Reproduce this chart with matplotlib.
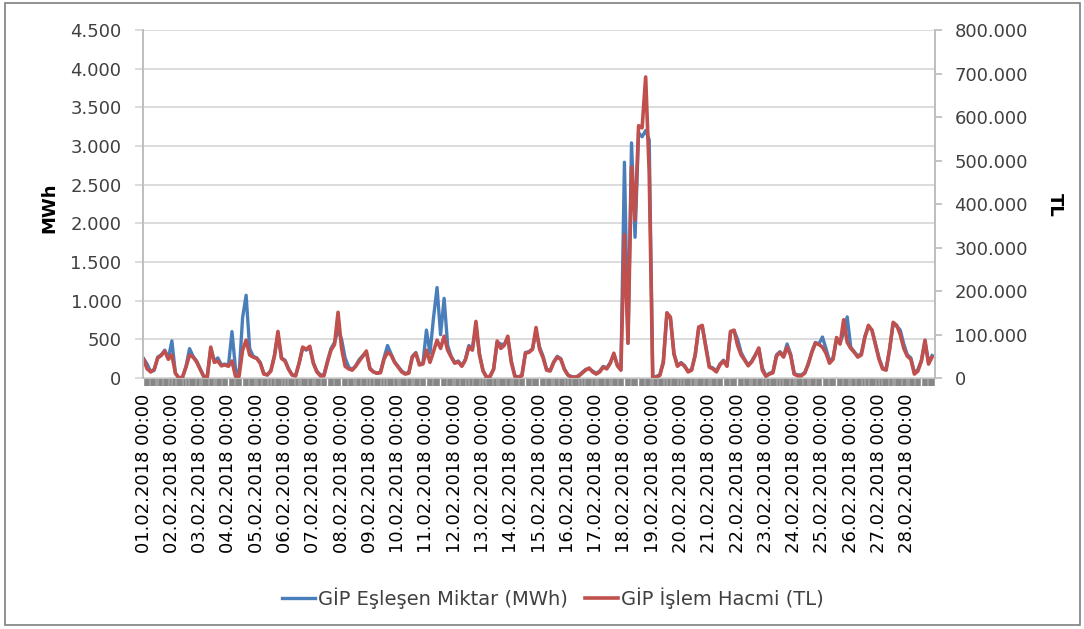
import numpy as np
import matplotlib
matplotlib.use("Agg")
import matplotlib.pyplot as plt
from matplotlib.ticker import FuncFormatter, FixedLocator
from matplotlib.patches import Rectangle

# 28 gun, 3 saatlik okumalar (grafikten okunan yaklasik degerler)
gun_etiketleri = [f"{d:02d}.02.2018 00:00" for d in range(1, 29)]
saat_adimi = 3
saat_sayisi = 28 * 24

# GIP Eslesen Miktar (MWh)
eslesen_miktar_mwh = [
    250, 180, 80, 100, 270, 300, 360, 250,       # 01.02
    480, 60, 0, 10, 150, 380, 280, 220,          # 02.02
    120, 20, 10, 380, 220, 260, 170, 180,        # 03.02
    160, 600, 120, 40, 780, 1070, 380, 280,      # 04.02
    260, 200, 60, 40, 100, 290, 560, 260,        # 05.02
    230, 120, 40, 30, 200, 390, 360, 390,        # 06.02
    200, 90, 40, 40, 220, 380, 460, 620,         # 07.02
    500, 260, 140, 110, 160, 240, 290, 330,      # 08.02
    130, 80, 60, 80, 260, 420, 310, 210,         # 09.02
    150, 90, 60, 70, 280, 330, 180, 190,         # 10.02
    620, 320, 780, 1170, 560, 1030, 420, 280,    # 11.02
    200, 220, 160, 240, 420, 380, 660, 310,      # 12.02
    100, 10, 20, 120, 460, 440, 430, 520,        # 13.02
    220, 30, 10, 40, 330, 340, 380, 600,         # 14.02
    400, 280, 110, 100, 210, 280, 250, 120,      # 15.02
    40, 20, 10, 30, 70, 110, 120, 90,            # 16.02
    60, 90, 150, 130, 200, 300, 170, 110,        # 17.02
    2790, 450, 3040, 1820, 3170, 3120, 3200, 3080,  # 18.02
    10, 20, 40, 220, 820, 770, 320, 160,         # 19.02
    200, 160, 90, 110, 300, 640, 660, 420,       # 20.02
    150, 130, 90, 180, 230, 160, 590, 610,       # 21.02
    500, 330, 240, 170, 220, 300, 380, 130,      # 22.02
    30, 60, 80, 300, 340, 280, 440, 310,         # 23.02
    60, 40, 40, 70, 190, 340, 460, 440,          # 24.02
    530, 380, 220, 260, 500, 460, 580, 790,      # 25.02
    400, 340, 280, 320, 540, 660, 620, 440,      # 26.02
    260, 130, 110, 380, 700, 670, 620, 440,      # 27.02
    300, 260, 70, 110, 230, 470, 200, 290,       # 28.02
]

# GIP Islem Hacmi (TL)
islem_hacmi_tl = [
    43000, 21000, 14000, 20000, 46000, 52000, 62000, 43000,
    53000, 11000, 0, 2000, 25000, 53000, 48000, 37000,
    20000, 4000, 2000, 71000, 36000, 39000, 28000, 30000,
    27000, 39000, 4000, 4000, 64000, 87000, 53000, 48000,
    45000, 34000, 9000, 7000, 16000, 50000, 107000, 45000,
    39000, 20000, 7000, 5000, 34000, 71000, 66000, 73000,
    34000, 14000, 5000, 5000, 36000, 64000, 77000, 151000,
    68000, 27000, 21000, 18000, 27000, 39000, 50000, 62000,
    21000, 14000, 11000, 12000, 43000, 59000, 53000, 36000,
    25000, 14000, 9000, 11000, 48000, 57000, 30000, 32000,
    64000, 36000, 61000, 87000, 68000, 96000, 64000, 48000,
    34000, 37000, 27000, 41000, 71000, 64000, 130000, 53000,
    16000, 2000, 4000, 20000, 85000, 68000, 75000, 96000,
    36000, 4000, 2000, 5000, 57000, 59000, 66000, 116000,
    66000, 46000, 18000, 16000, 36000, 48000, 43000, 20000,
    7000, 2000, 2000, 4000, 11000, 18000, 23000, 14000,
    9000, 14000, 25000, 21000, 34000, 57000, 28000, 18000,
    329000, 80000, 485000, 363000, 580000, 575000, 692000, 473000,
    0, 2000, 6000, 35000, 150000, 140000, 55000, 27000,
    34000, 27000, 14000, 18000, 52000, 117000, 121000, 71000,
    25000, 21000, 14000, 30000, 39000, 27000, 107000, 110000,
    75000, 53000, 41000, 28000, 37000, 52000, 69000, 18000,
    4000, 9000, 12000, 50000, 59000, 48000, 71000, 52000,
    9000, 5000, 5000, 11000, 32000, 59000, 80000, 77000,
    71000, 57000, 34000, 43000, 93000, 78000, 134000, 82000,
    68000, 59000, 48000, 53000, 93000, 121000, 110000, 77000,
    43000, 21000, 18000, 66000, 128000, 121000, 100000, 68000,
    50000, 43000, 9000, 16000, 39000, 87000, 32000, 48000,
]


def tr_sayi(v, pos):
    return f"{v:,.0f}".replace(",", ".")


def main():
    plt.rcParams['font.family'] = ['DejaVu Sans']
    yazi_rengi = '#404040'
    cizgi_gri = '#bfbfbf'

    fig = plt.figure(figsize=(10.84, 6.29), dpi=100)
    ax = fig.add_axes([143 / 1084, 1 - 378 / 629, 792 / 1084, 348 / 629])
    ax2 = ax.twinx()

    saatler = np.arange(len(eslesen_miktar_mwh)) * saat_adimi
    l1, = ax.plot(saatler, eslesen_miktar_mwh, color='#4A7EBB', lw=2.4,
                  label='GİP Eşleşen Miktar (MWh)')
    l2, = ax2.plot(saatler, islem_hacmi_tl, color='#C0504D', lw=2.6,
                   label='GİP İşlem Hacmi (TL)')

    ax.set_xlim(-0.5, saat_sayisi - 0.5)
    ax.set_ylim(0, 4500)
    ax.set_yticks(np.arange(0, 4501, 500))
    ax2.set_ylim(0, 800000)
    ax2.set_yticks(np.arange(0, 800001, 100000))
    ax.yaxis.set_major_formatter(FuncFormatter(tr_sayi))
    ax2.yaxis.set_major_formatter(FuncFormatter(tr_sayi))

    ax.yaxis.grid(True, color='#d9d9d9', lw=1.3)
    ax.set_axisbelow(True)

    for a in (ax, ax2):
        a.spines['top'].set_visible(False)
        a.spines['left'].set_color(cizgi_gri)
        a.spines['right'].set_color(cizgi_gri)
        a.spines['bottom'].set_color(cizgi_gri)
        a.spines['left'].set_linewidth(1.3)
        a.spines['right'].set_linewidth(1.3)

    ax.tick_params(axis='y', length=5.5, width=1.3, color='#d9d9d9',
                   labelsize=13, labelcolor=yazi_rengi, pad=10)
    ax2.tick_params(axis='y', length=5, width=1.3, color=cizgi_gri,
                    labelsize=13, labelcolor=yazi_rengi, pad=9)

    # x ekseni: gun etiketleri + saatlik tik bandi
    ax.set_xticks(np.arange(0, saat_sayisi, 24))
    ax.set_xticklabels(gun_etiketleri, rotation=90, fontsize=13, color='black')
    ax.xaxis.set_minor_locator(FixedLocator([h for h in range(saat_sayisi) if h % 12]))
    ax.tick_params(axis='x', which='major', length=0, pad=11)
    ax.tick_params(axis='x', which='minor', length=6, width=1.1, color='#808080')

    fig.text(0.046, 0.669, 'MWh', rotation=90, fontsize=13, fontweight='bold',
             ha='center', va='center')
    fig.text(0.973, 0.674, 'TL', rotation=270, fontsize=13, fontweight='bold',
             ha='center', va='center')

    fig.legend(handles=[l1, l2], loc='center', bbox_to_anchor=(0.51, 0.049),
               ncol=2, frameon=False, fontsize=14, handlelength=1.7,
               handletextpad=0.15, columnspacing=0.9, labelcolor=yazi_rengi)

    fig.patches.append(Rectangle((5 / 1084, 4 / 629), 1075 / 1084, 622 / 629,
                                 transform=fig.transFigure, fill=False,
                                 ec='#7f7f7f', lw=1.2))

    fig.savefig('out.png', dpi=100)
    plt.close(fig)


if __name__ == "__main__":
    main()
